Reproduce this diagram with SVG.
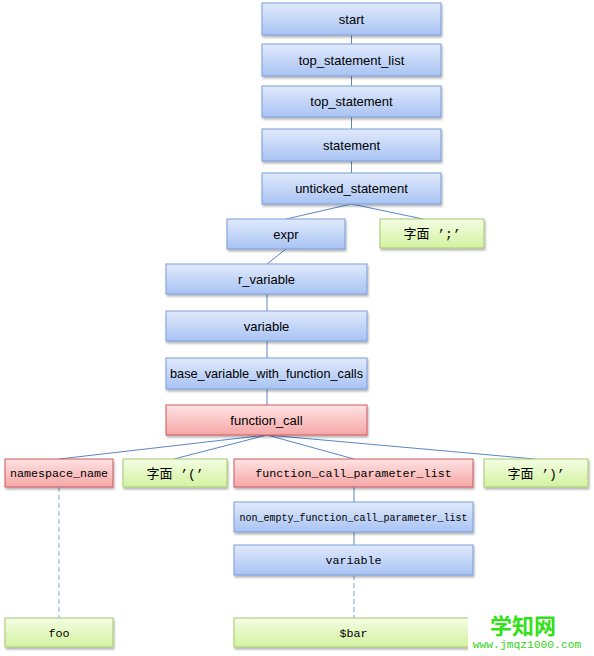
<svg xmlns="http://www.w3.org/2000/svg" width="594" height="656" viewBox="0 0 594 656">
<defs>
<linearGradient id="gb" x1="0" y1="0" x2="0" y2="1"><stop offset="0" stop-color="#e1eafc"/><stop offset="1" stop-color="#a8c3f3"/></linearGradient>
<linearGradient id="gr" x1="0" y1="0" x2="0" y2="1"><stop offset="0" stop-color="#ffe3e3"/><stop offset="1" stop-color="#f5a6a6"/></linearGradient>
<linearGradient id="gg" x1="0" y1="0" x2="0" y2="1"><stop offset="0" stop-color="#f4fde3"/><stop offset="1" stop-color="#d3f2a0"/></linearGradient>
<filter id="sh" x="-10%" y="-20%" width="120%" height="160%"><feDropShadow dx="1" dy="2" stdDeviation="1.2" flood-color="#000" flood-opacity="0.3"/></filter>
</defs>
<style>
.b rect{fill:url(#gb);stroke:#7a9dd8;stroke-width:1;filter:url(#sh)}
.r rect{fill:url(#gr);stroke:#cf5b5e;stroke-width:1;filter:url(#sh)}
.g rect{fill:url(#gg);stroke:#a8c873;stroke-width:1;filter:url(#sh)}
text{fill:#000;text-anchor:middle}
.s{font-family:"Liberation Sans","Open Sans",sans-serif;font-size:13px}
.m{font-family:"Liberation Mono","DejaVu Sans Mono",monospace;font-size:11.7px}
.c{font-family:"Liberation Mono","Noto Sans CJK SC",monospace;font-size:13px}
.cn{font-family:"Noto Sans CJK SC",sans-serif}
.ln line{stroke:#5a86c4;stroke-width:1;fill:none}
.ln .d{stroke:#7fa3d6;stroke-dasharray:5 3}
</style>
<g class="ln">
<line x1="351.5" y1="35" x2="351.5" y2="44"/>
<line x1="351.5" y1="76" x2="351.5" y2="86"/>
<line x1="351.5" y1="117" x2="351.5" y2="129"/>
<line x1="351.5" y1="161" x2="351.5" y2="173"/>
<line x1="351.5" y1="204" x2="286" y2="219"/>
<line x1="351.5" y1="204" x2="423" y2="219"/>
<line x1="286" y1="249" x2="267" y2="264"/>
<line x1="267" y1="294" x2="267" y2="311"/>
<line x1="267" y1="341" x2="267" y2="358"/>
<line x1="267" y1="389" x2="267" y2="405"/>
<line x1="267" y1="435" x2="59" y2="459"/>
<line x1="267" y1="435" x2="174" y2="459"/>
<line x1="267" y1="435" x2="354" y2="459"/>
<line x1="267" y1="435" x2="535" y2="459"/>
<line x1="354" y1="487" x2="354" y2="502"/>
<line x1="354" y1="532" x2="354" y2="545"/>
<line class="d" x1="59" y1="487" x2="59" y2="618"/>
<line class="d" x1="354" y1="575" x2="354" y2="618"/>
</g>
<g id="start" class="b"><rect x="262" y="3" width="179" height="32"/><text class="s" x="351.5" y="23.5">start</text></g>
<g id="top_statement_list" class="b"><rect x="262" y="44" width="179" height="32"/><text class="s" x="351.5" y="64.5">top_statement_list</text></g>
<g id="top_statement" class="b"><rect x="262" y="86" width="179" height="31"/><text class="s" x="351.5" y="106">top_statement</text></g>
<g id="statement" class="b"><rect x="262" y="129" width="179" height="32"/><text class="s" x="351.5" y="149.5">statement</text></g>
<g id="unticked_statement" class="b"><rect x="262" y="173" width="179" height="31"/><text class="s" x="351.5" y="193">unticked_statement</text></g>
<g id="expr" class="b"><rect x="227" y="219" width="118" height="30"/><text class="s" x="286" y="238.5">expr</text></g>
<g id="lit_semicolon" class="g"><rect x="380" y="219" width="104" height="29"/><text class="c" x="432" y="238"><tspan class="cn">字面</tspan> ’;’</text></g>
<g id="r_variable" class="b"><rect x="166" y="264" width="201" height="30"/><text class="s" x="266.5" y="283.5">r_variable</text></g>
<g id="variable" class="b"><rect x="166" y="311" width="201" height="30"/><text class="s" x="266.5" y="330.5">variable</text></g>
<g id="base_variable_with_function_calls" class="b"><rect x="166" y="358" width="201" height="31"/><text class="s" x="266.5" y="378" textLength="193" lengthAdjust="spacingAndGlyphs">base_variable_with_function_calls</text></g>
<g id="function_call" class="r"><rect x="166" y="405" width="201" height="30"/><text class="s" x="266.5" y="424.5">function_call</text></g>
<g id="namespace_name" class="r"><rect x="5" y="459" width="108" height="28"/><text class="m" x="59" y="477">namespace_name</text></g>
<g id="lit_lparen" class="g"><rect x="123" y="459" width="104" height="28"/><text class="c" x="175" y="477.5"><tspan class="cn">字面</tspan> ’(’</text></g>
<g id="function_call_parameter_list" class="r"><rect x="234" y="459" width="239" height="28"/><text class="m" x="353.5" y="477">function_call_parameter_list</text></g>
<g id="lit_rparen" class="g"><rect x="484" y="459" width="104" height="28"/><text class="c" x="536" y="477.5"><tspan class="cn">字面</tspan> ’)’</text></g>
<g id="non_empty_function_call_parameter_list" class="b"><rect x="234" y="502" width="239" height="30"/><text class="m" x="353.5" y="520.5" style="font-size:10px">non_empty_function_call_parameter_list</text></g>
<g id="variable2" class="b"><rect x="234" y="545" width="239" height="30"/><text class="m" x="353.5" y="564">variable</text></g>
<g id="foo" class="g"><rect x="5" y="618" width="108" height="29"/><text class="m" x="59" y="636.5">foo</text></g>
<g id="bar" class="g"><rect x="234" y="618" width="239" height="29"/><text class="m" x="353.5" y="636.5">$bar</text></g>
<rect x="468" y="606" width="126" height="50" fill="#fff"/>
<text x="523" y="634" style="font-family:'Noto Sans CJK SC',sans-serif;font-size:22px;font-weight:bold;fill:#33e01a">学知网</text>
<text x="527" y="648" style="font-family:'Liberation Mono',monospace;font-size:11.3px;fill:#33d41a">www.jmqz1000.com</text>
</svg>
